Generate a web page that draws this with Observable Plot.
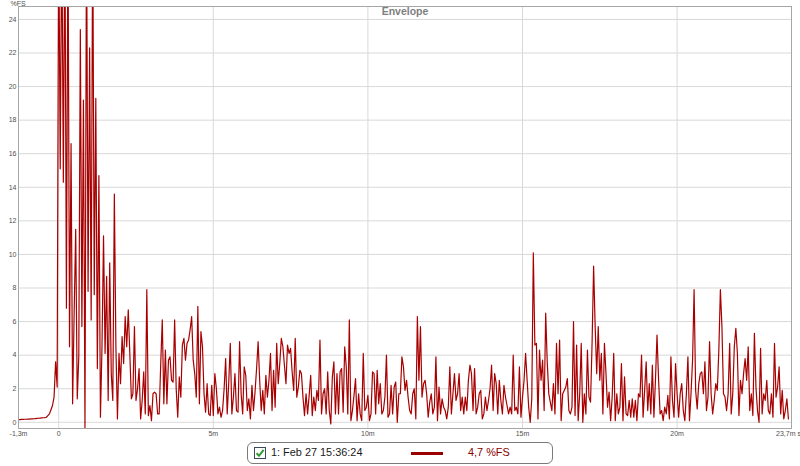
<!DOCTYPE html>
<html>
<head>
<meta charset="utf-8">
<script src="https://cdn.jsdelivr.net/npm/d3@7"></script>
<script src="https://cdn.jsdelivr.net/npm/@observablehq/plot@0.6"></script>
<style>
  html, body { margin: 0; padding: 0; background: #ffffff; }
  #wrap { position: relative; width: 800px; height: 466px; font-family: "Liberation Sans", Arial, sans-serif; }
  #chart svg { display: block; }
  #legend {
    position: absolute; left: 247px; top: 442px; width: 304px; height: 20px;
    border: 1px solid #7a7a7a; border-radius: 6px; background: #fff;
    font-size: 10.9px; color: #1a1a1a;
  }
  #legend .box {
    position: absolute; left: 6px; top: 4px; width: 10px; height: 10px;
    border: 1px solid #3a4a5a; background: #fff;
  }
  #legend .box svg { position: absolute; left: 0; top: 0; }
  #legend .name { position: absolute; left: 23px; top: 3px; white-space: nowrap; }
  #legend .swatch { position: absolute; left: 163px; top: 9px; width: 32px; height: 2.5px; background: #9a0000; }
  #legend .val { position: absolute; left: 220px; top: 3px; color: #8a0000; white-space: nowrap; }
</style>
</head>
<body>
<div id="wrap">
  <div id="chart"></div>
  <div id="legend">
    <div class="box"><svg width="10" height="10" viewBox="0 0 10 10"><path d="M1.6 5.2 L4 7.8 L8.6 1.8" fill="none" stroke="#2e9a2e" stroke-width="2"/></svg></div>
    <div class="name" id="legendName"></div>
    <div class="swatch"></div>
    <div class="val" id="legendValue"></div>
  </div>
</div>
<script>
// ---- data -------------------------------------------------------------
const chartTitle = "Envelope";
const yUnit = "%FS";
const seriesName = "1: Feb 27 15:36:24";
const seriesValueLabel = "4,7 %FS";

// sampling of the envelope (ms)
const startMs = -1.3;
const stepMs = 0.05;

// envelope level in %FS, one value per sample (values above the top are clipped)
const envelope = [
  0.16,0.16,0.17,0.17,0.18,0.18,0.19,0.19,0.2,0.2, 0.21,0.22,0.23,0.24,0.25,0.26,0.27,0.28,0.3,0.4,
  0.5,0.75,1.0,1.5,3.6,2.1,30,15.1,30,14.3, 30,6.8,30,4.5,16.6,1.1,6.5,11.5,1.4,3.9,
  23.4,5.7,19.2,-0.4,30,7.8,22.3,6.1,30,7.6, 19.3,3.2,14.7,0.3,4.5,11.1,4.1,8.7,1.3,9.5,
  2.9,1.3,13.6,4.5,0.2,4.1,2.3,5.1,3.5,6.3, 4.5,6.7,4.1,1.4,1.7,5.7,1.3,2.0,3.2,0.2,
  1.3,3.0,0.5,7.9,0.4,1.0,0.1,1.7,1.8,1.7, 0.5,0.5,3.5,6.1,1.1,4.3,1.1,3.7,3.9,2.5,
  2.4,6.1,2.0,0.3,2.7,1.5,4.6,5.0,3.7,4.7, 4.9,5.5,6.3,3.7,2.9,1.5,6.9,1.1,5.4,4.5,
  1.7,0.6,2.3,0.5,0.4,2.2,0.4,2.9,2.0,0.5, 0.9,0.3,0.7,2.0,3.8,0.5,2.4,4.7,0.5,1.5,
  2.9,0.7,0.6,4.8,1.7,0.5,3.3,2.8,0.7,1.4, 0.2,2.2,0.7,1.8,3.2,4.8,2.5,0.7,1.9,0.5,
  2.8,1.5,2.5,4.1,0.7,3.1,0.9,4.7,2.3,3.5, 5.0,4.5,3.4,2.3,4.6,4.1,4.4,3.0,1.9,5.0,
  1.5,2.1,3.1,2.9,1.5,0.4,1.7,0.5,1.6,2.8, 0.4,1.5,0.7,1.9,1.3,4.9,0.5,1.7,2.0,0.5,
  3.0,0.7,-0.1,2.7,3.6,0.5,2.9,0.5,3.0,3.2, 0.6,4.5,3.3,0.5,6.1,0.1,0.7,1.6,2.6,0.1,
  1.7,0.5,0.1,4.1,0.7,0.9,1.6,0.1,0.5,3.0, 2.9,0.5,3.1,1.1,2.3,0.5,0.7,1.5,4.0,0.3,
  0.5,2.2,0.5,2.1,2.4,0.0,1.7,1.7,3.9,3.3, 1.9,2.5,1.5,0.7,0.5,1.7,2.0,0.2,6.3,2.5,
  5.7,1.5,2.3,2.5,1.7,0.3,1.2,1.7,0.5,0.9, 3.9,0.1,2.1,0.5,1.4,0.9,0.7,0.2,0.9,3.3,
  0.5,1.7,2.9,1.3,1.7,2.9,0.7,1.5,0.5,1.5, 0.7,2.5,3.4,2.9,0.7,3.2,0.5,0.9,1.7,1.9,
  0.2,0.5,1.5,0.7,1.3,2.0,3.4,0.7,2.9,2.3, 0.5,2.5,1.3,0.5,2.2,1.5,1.0,0.5,0.9,0.5,
  4.0,0.7,0.9,0.5,3.3,0.3,1.5,2.5,4.1,2.5, 0.9,0.0,1.4,10.1,4.6,4.7,0.2,4.3,2.5,3.7,
  0.7,6.5,3.6,1.7,1.2,0.7,2.3,0.5,4.7,1.7, 4.9,0.1,1.7,1.9,2.1,2.6,0.7,0.5,0.9,6.0,
  0.4,4.6,0.1,1.7,4.7,0.0,1.7,0.5,4.3,1.5, 1.2,4.7,9.3,5.7,2.9,5.7,2.5,4.1,0.5,4.7,
  2.9,0.9,1.8,0.1,1.5,4.1,0.1,1.7,0.5,0.9, 3.5,0.1,2.7,0.5,0.4,1.3,0.3,1.4,0.3,1.3,
  0.1,1.7,1.5,4.0,0.3,1.9,3.6,0.7,2.3,0.5, 3.4,0.3,2.5,5.2,2.6,0.5,0.7,0.1,0.9,0.5,
  1.6,0.2,3.9,1.3,0.3,3.5,1.7,0.3,1.7,2.3, 0.7,0.1,1.7,3.9,0.1,1.7,3.7,7.9,1.9,0.8,
  2.3,2.9,3.0,1.7,3.6,0.7,1.5,4.8,1.7,0.5, 1.3,2.3,1.9,4.3,7.9,5.7,1.7,1.5,0.7,1.7,
  4.7,0.5,1.7,4.5,5.6,4.1,0.4,2.5,1.7,2.9, 3.8,2.5,4.5,0.7,1.7,0.4,5.3,2.1,0.7,0.0,
  4.4,0.5,1.7,1.3,2.5,0.7,0.5,1.7,0.3,4.7, 1.5,2.1,3.3,0.5,1.9,0.2,0.7,1.4,0.2
];

// axes
const xDomain = [-1.3, 23.7];
const yDomain = [-0.37, 24.77];
const xTicks = [-1.3, 0, 5, 10, 15, 20];
const xTickLabels = ["-1,3m", "0", "5m", "10m", "15m", "20m"];
const xEndTick = 23.7;
const xEndLabel = "23,7m s";
const xGrid = [0, 5, 10, 15, 20];
const yTicks = [0, 2, 4, 6, 8, 10, 12, 14, 16, 18, 20, 22, 24];

// ---- chart ------------------------------------------------------------
const rows = envelope.map((v, i) => ({ t: startMs + i * stepMs, v }));
const xLabelMap = new Map(xTicks.map((d, i) => [d, xTickLabels[i]]));

const chart = Plot.plot({
  width: 800,
  height: 442,
  marginLeft: 18,
  marginRight: 9,
  marginTop: 6,
  marginBottom: 14,
  style: { fontFamily: "'Liberation Sans', Arial, sans-serif", background: "#ffffff", overflow: "visible" },
  x: { domain: xDomain },
  y: { domain: yDomain },
  marks: [
    Plot.gridY(yTicks, { stroke: "#d9d9d9", strokeOpacity: 1 }),
    Plot.gridX(xGrid, { stroke: "#d9d9d9", strokeOpacity: 1 }),
    Plot.line(rows, { x: "t", y: "v", stroke: "#a80000", strokeWidth: 1.2, clip: true }),
    Plot.frame({ stroke: "#a6a6a6" }),
    Plot.axisY(yTicks, { tickSize: 0, tickPadding: 2, fontSize: 7, fill: "#505050", label: null }),
    Plot.axisX(xTicks, { tickSize: 0, tickPadding: 3, fontSize: 7, fill: "#505050", label: null,
      tickFormat: d => xLabelMap.get(d) }),
    Plot.text([xEndTick], { x: d => d, frameAnchor: "bottom", lineAnchor: "top", dy: 3, dx: -3,
      text: () => xEndLabel, fontSize: 7, fill: "#505050" }),
    Plot.text([chartTitle], { frameAnchor: "top", dy: 1, text: d => d, fontSize: 10.5,
      fontWeight: "bold", fill: "#7f7f7f" }),
    Plot.text([yUnit], { frameAnchor: "top-left", dx: -8, dy: -5, text: d => d, fontSize: 7,
      fill: "#505050" })
  ]
});
document.getElementById("chart").append(chart);
document.getElementById("legendName").textContent = seriesName;
document.getElementById("legendValue").textContent = seriesValueLabel;
</script>
</body>
</html>
